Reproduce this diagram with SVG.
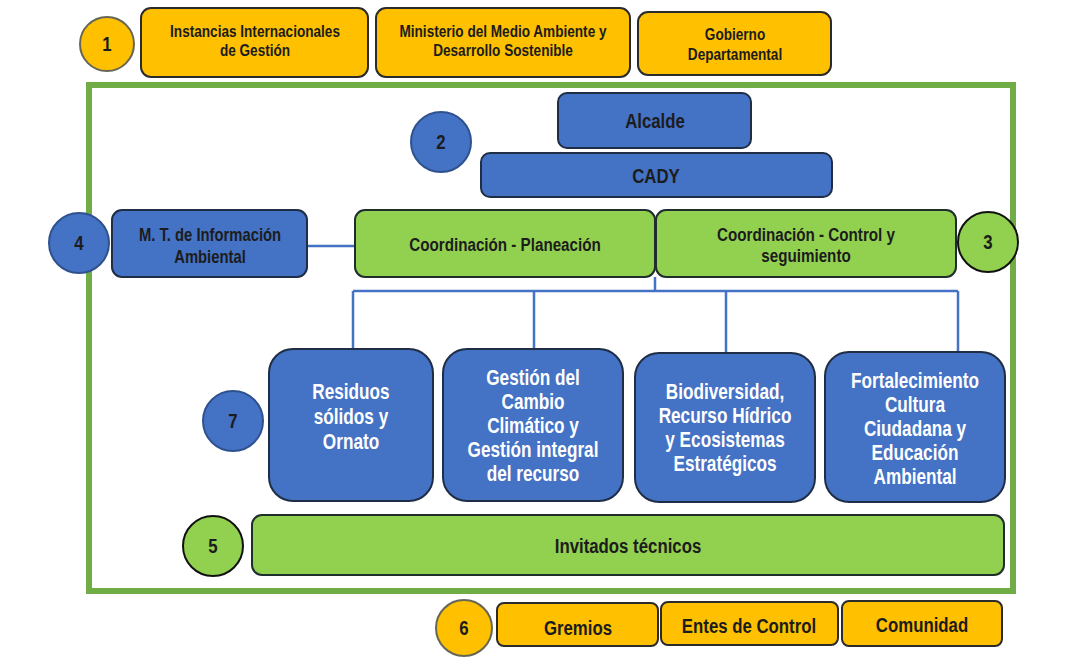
<svg xmlns="http://www.w3.org/2000/svg" width="1074" height="661" viewBox="0 0 1074 661">
<style>
.t{font-family:"Liberation Sans",Arial,sans-serif;font-weight:bold;text-anchor:middle;fill:#1c1c1c}
.w{fill:#ffffff}
.f17{font-size:17px}
.f185{font-size:18.5px}
.f19{font-size:19px}
.f21{font-size:21px}
.f215{font-size:21.5px}
.y{fill:#FFC000;stroke:#2b2b2b;stroke-width:2}
.b{fill:#4472C4;stroke:#1F2D45;stroke-width:2}
.g{fill:#92D050;stroke:#1F2D2D;stroke-width:2}
.cy{fill:#FFC000;stroke:#666655;stroke-width:2}
.cb{fill:#4472C4;stroke:#2F528F;stroke-width:2}
.cg{fill:#92D050;stroke:#111111;stroke-width:2}
.ln{fill:none;stroke:#4472C4;stroke-width:2.5}
</style>
<rect width="1074" height="661" fill="#ffffff"/>
<rect id="frame" x="89" y="85" width="924" height="506" fill="none" stroke="#70AD47" stroke-width="6"/>
<g id="connectors">
<line class="ln" x1="307" y1="246" x2="355" y2="246" stroke-width="1.5"/>
<path class="ln" d="M655 277 V291 M353 291 H958 M353 291 V349 M534 291 V349 M726 291 V353 M958 291 V352"/>
</g>
<g id="n1"><circle class="cy" cx="107" cy="44" r="27"/><g transform="translate(107 0) scale(0.8 1)"><text class="t f21" x="0" y="51">1</text></g></g>
<g id="instancias"><rect class="y" x="141" y="8" width="227" height="69" rx="10"/><g transform="translate(255 0) scale(0.8 1)"><text class="t f17" x="0" y="37.5">Instancias Internacionales</text><text class="t f17" x="0" y="56">de Gestión</text></g></g>
<g id="ministerio"><rect class="y" x="376" y="8" width="254" height="69" rx="10"/><g transform="translate(503 0) scale(0.8 1)"><text class="t f17" x="0" y="37.5">Ministerio del Medio Ambiente y</text><text class="t f17" x="0" y="56">Desarrollo Sostenible</text></g></g>
<g id="gobierno"><rect class="y" x="638" y="12" width="193" height="63" rx="10"/><g transform="translate(735 0) scale(0.8 1)"><text class="t f17" x="0" y="40">Gobierno</text><text class="t f17" x="0" y="60">Departamental</text></g></g>
<g id="n2"><circle class="cb" cx="441" cy="142" r="30"/><g transform="translate(441 0) scale(0.8 1)"><text class="t f21" x="0" y="149.5">2</text></g></g>
<g id="alcalde"><rect class="b" x="558" y="93" width="193" height="55" rx="9"/><g transform="translate(655 0) scale(0.8 1)"><text class="t f21" x="0" y="128.5">Alcalde</text></g></g>
<g id="cady"><rect class="b" x="481" y="153" width="351" height="44" rx="9"/><g transform="translate(656 0) scale(0.8 1)"><text class="t f21" x="0" y="183.5">CADY</text></g></g>
<g id="n4"><circle class="cb" cx="79" cy="243" r="30"/><g transform="translate(79 0) scale(0.8 1)"><text class="t f21" x="0" y="250.5">4</text></g></g>
<g id="mt"><rect class="b" x="112" y="210" width="195" height="67" rx="10"/><g transform="translate(210 0) scale(0.8 1)"><text class="t f185" x="0" y="241">M. T. de Información</text><text class="t f185" x="0" y="263">Ambiental</text></g></g>
<g id="planeacion"><rect class="g" x="355" y="210" width="300" height="67" rx="10"/><g transform="translate(505 0) scale(0.8 1)"><text class="t f19" x="0" y="251">Coordinación - Planeación</text></g></g>
<g id="control"><rect class="g" x="656" y="210" width="300" height="67" rx="10"/><g transform="translate(806 0) scale(0.8 1)"><text class="t f19" x="0" y="241.5">Coordinación - Control y</text><text class="t f19" x="0" y="262.5">seguimiento</text></g></g>
<g id="n3"><circle class="cg" cx="988" cy="242" r="30"/><g transform="translate(988 0) scale(0.8 1)"><text class="t f21" x="0" y="249.5">3</text></g></g>
<g id="n7"><circle class="cb" cx="233" cy="421" r="30"/><g transform="translate(233 0) scale(0.8 1)"><text class="t f21" x="0" y="428.5">7</text></g></g>
<g id="residuos"><rect class="b" x="269" y="349" width="164" height="152" rx="24"/><g transform="translate(351 0) scale(0.8 1)"><text class="t w f215" x="0" y="399.5">Residuos</text><text class="t w f215" x="0" y="424.5">sólidos y</text><text class="t w f215" x="0" y="449.5">Ornato</text></g></g>
<g id="cambio"><rect class="b" x="443" y="349" width="180" height="152" rx="24"/><g transform="translate(533 0) scale(0.8 1)"><text class="t w f215" x="0" y="385.5">Gestión del</text><text class="t w f215" x="0" y="409.5">Cambio</text><text class="t w f215" x="0" y="433.5">Climático y</text><text class="t w f215" x="0" y="457.5">Gestión integral</text><text class="t w f215" x="0" y="481.5">del recurso</text></g></g>
<g id="biodiversidad"><rect class="b" x="635" y="353" width="180" height="149" rx="24"/><g transform="translate(725 0) scale(0.8 1)"><text class="t w f215" x="0" y="399.5">Biodiversidad,</text><text class="t w f215" x="0" y="423.5">Recurso Hídrico</text><text class="t w f215" x="0" y="447.5">y Ecosistemas</text><text class="t w f215" x="0" y="471.5">Estratégicos</text></g></g>
<g id="fortalecimiento"><rect class="b" x="825" y="352" width="180" height="150" rx="24"/><g transform="translate(915 0) scale(0.8 1)"><text class="t w f215" x="0" y="388.5">Fortalecimiento</text><text class="t w f215" x="0" y="412.5">Cultura</text><text class="t w f215" x="0" y="436.5">Ciudadana y</text><text class="t w f215" x="0" y="460.5">Educación</text><text class="t w f215" x="0" y="484.5">Ambiental</text></g></g>
<g id="n5"><circle class="cg" cx="213" cy="546" r="30"/><g transform="translate(213 0) scale(0.8 1)"><text class="t f21" x="0" y="553.5">5</text></g></g>
<g id="invitados"><rect class="g" x="252" y="515" width="752" height="60" rx="10"/><g transform="translate(628 0) scale(0.8 1)"><text class="t f21" x="0" y="553">Invitados técnicos</text></g></g>
<g id="n6"><circle class="cy" cx="464" cy="628" r="28"/><g transform="translate(464 0) scale(0.8 1)"><text class="t f21" x="0" y="635.5">6</text></g></g>
<g id="gremios"><rect class="y" x="497" y="603" width="161" height="43" rx="7"/><g transform="translate(578 0) scale(0.8 1)"><text class="t f21" x="0" y="635.5">Gremios</text></g></g>
<g id="entes"><rect class="y" x="661" y="602" width="177" height="43" rx="7"/><g transform="translate(749 0) scale(0.8 1)"><text class="t f21" x="0" y="633.5">Entes de Control</text></g></g>
<g id="comunidad"><rect class="y" x="842" y="601" width="160" height="45" rx="7"/><g transform="translate(922 0) scale(0.8 1)"><text class="t f21" x="0" y="632.5">Comunidad</text></g></g>
</svg>
